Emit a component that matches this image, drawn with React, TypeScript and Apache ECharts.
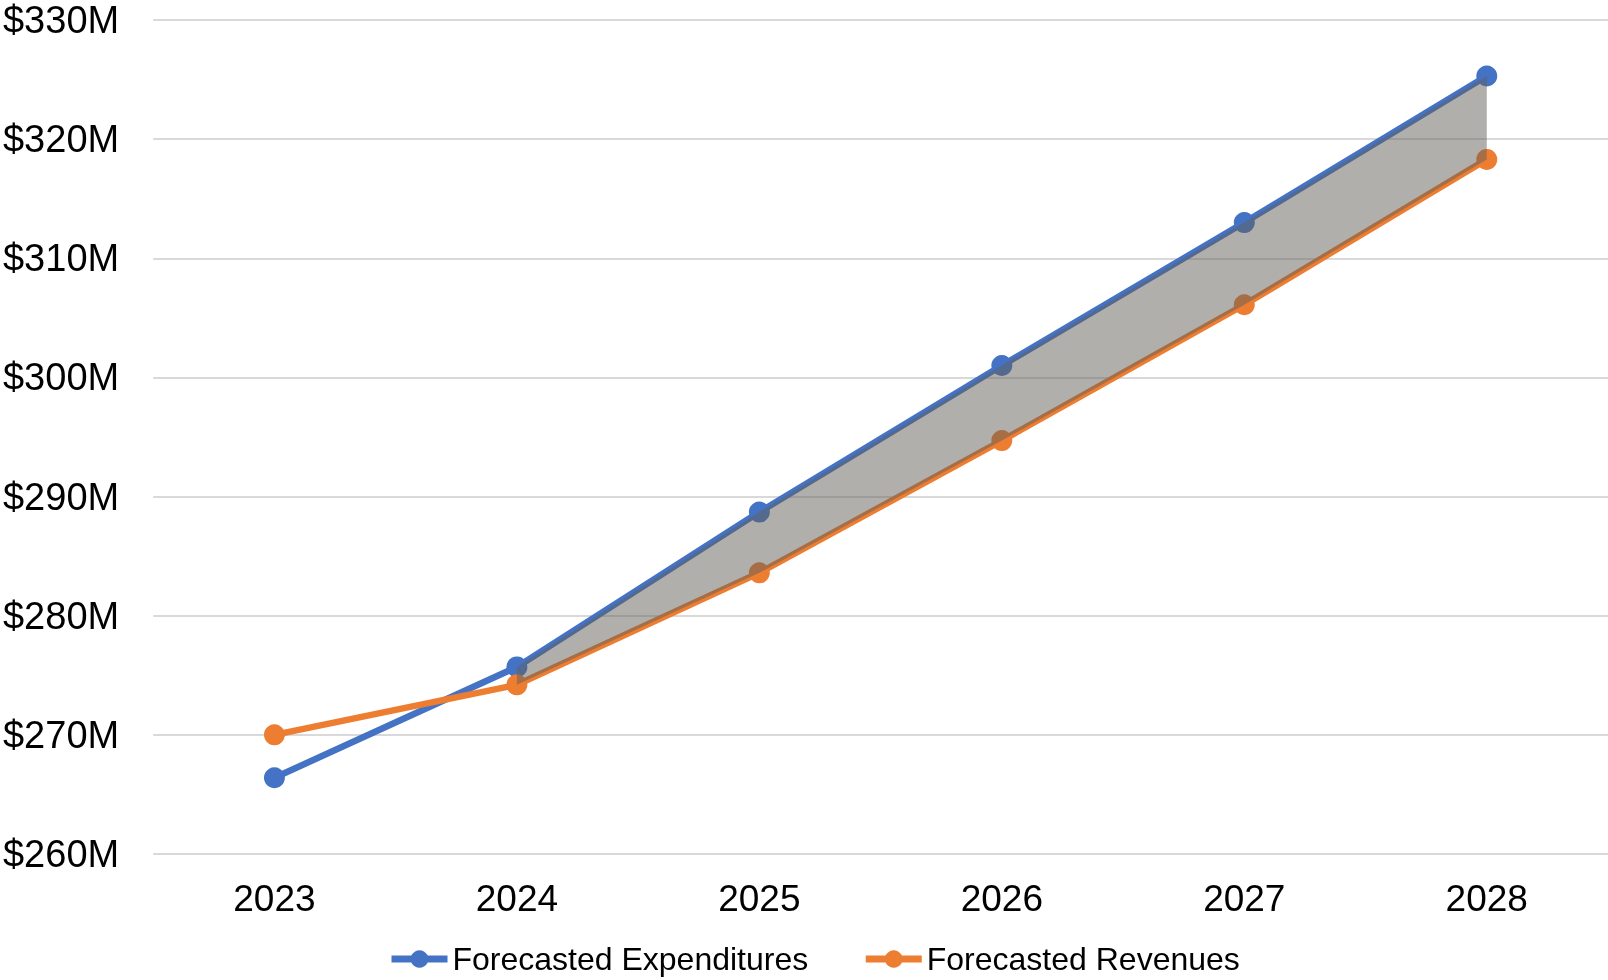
import React, { useEffect, useRef } from "react";
import * as echarts from "echarts";

const years = ["2023", "2024", "2025", "2026", "2027", "2028"];
const expenditures = [266.4, 275.7, 288.7, 301.0, 313.0, 325.3];
const revenues = [270.0, 274.2, 283.6, 294.7, 306.1, 318.3];
// gap area is shown from 2024 on (where expenditures exceed revenues)
const gapShown = [false, true, true, true, true, true];

export default function App() {
  const ref = useRef<HTMLDivElement>(null);
  useEffect(() => {
    if (!ref.current) return;
    const chart = echarts.init(ref.current, null, { renderer: "svg" });
    const font = "'Liberation Sans', Arial, sans-serif";
    const gapBase = revenues.map((v, i) => (gapShown[i] ? v : null));
    const gapDiff = expenditures.map((v, i) =>
      gapShown[i] ? +(v - revenues[i]).toFixed(2) : null
    );
    chart.setOption({
      animation: false,
      textStyle: { fontFamily: font },
      grid: { left: 146, right: 0, top: 20, bottom: 126, containLabel: false },
      legend: {
        data: ["Forecasted Expenditures", "Forecasted Revenues"],
        top: 943,
        left: 388,
        padding: 0,
        itemWidth: 56,
        itemHeight: 22,
        itemGap: 54,
        lineStyle: { width: 7 },
        textStyle: { fontSize: 32, color: "#000", fontFamily: font },
      },
      xAxis: {
        type: "category",
        data: years,
        boundaryGap: true,
        axisLine: { show: false },
        axisTick: { show: false },
        axisLabel: { fontSize: 37, color: "#000", margin: 26, fontFamily: font },
      },
      yAxis: {
        type: "value",
        min: 260,
        max: 330,
        interval: 10,
        axisLine: { show: false },
        axisTick: { show: false },
        splitLine: { lineStyle: { color: "#d9d9d9", width: 2 } },
        axisLabel: {
          fontSize: 38,
          color: "#000",
          margin: 34,
          fontFamily: font,
          formatter: (v: number) => "$" + v + "M",
        },
      },
      series: [
        {
          name: "Forecasted Expenditures",
          type: "line",
          data: expenditures,
          z: 2,
          symbol: "circle",
          symbolSize: 21,
          itemStyle: { color: "#4472C4" },
          lineStyle: { color: "#4472C4", width: 6.5 },
        },
        {
          name: "Forecasted Revenues",
          type: "line",
          data: revenues,
          z: 2,
          symbol: "circle",
          symbolSize: 21,
          itemStyle: { color: "#ED7D31" },
          lineStyle: { color: "#ED7D31", width: 6.5 },
        },
        {
          name: "gapBase",
          type: "line",
          stack: "gap",
          data: gapBase,
          z: 4,
          showSymbol: false,
          symbol: "none",
          lineStyle: { width: 0, opacity: 0 },
          silent: true,
        },
        {
          name: "gapDiff",
          type: "line",
          stack: "gap",
          data: gapDiff,
          z: 4,
          showSymbol: false,
          symbol: "none",
          lineStyle: { width: 0, opacity: 0 },
          areaStyle: { color: "rgba(97,95,90,0.5)", opacity: 1 },
          silent: true,
        },
      ],
    });
    return () => chart.dispose();
  }, []);
  return (
    <div
      ref={ref}
      style={{ position: "fixed", left: 0, top: 0, width: 1608, height: 980 }}
    />
  );
}
